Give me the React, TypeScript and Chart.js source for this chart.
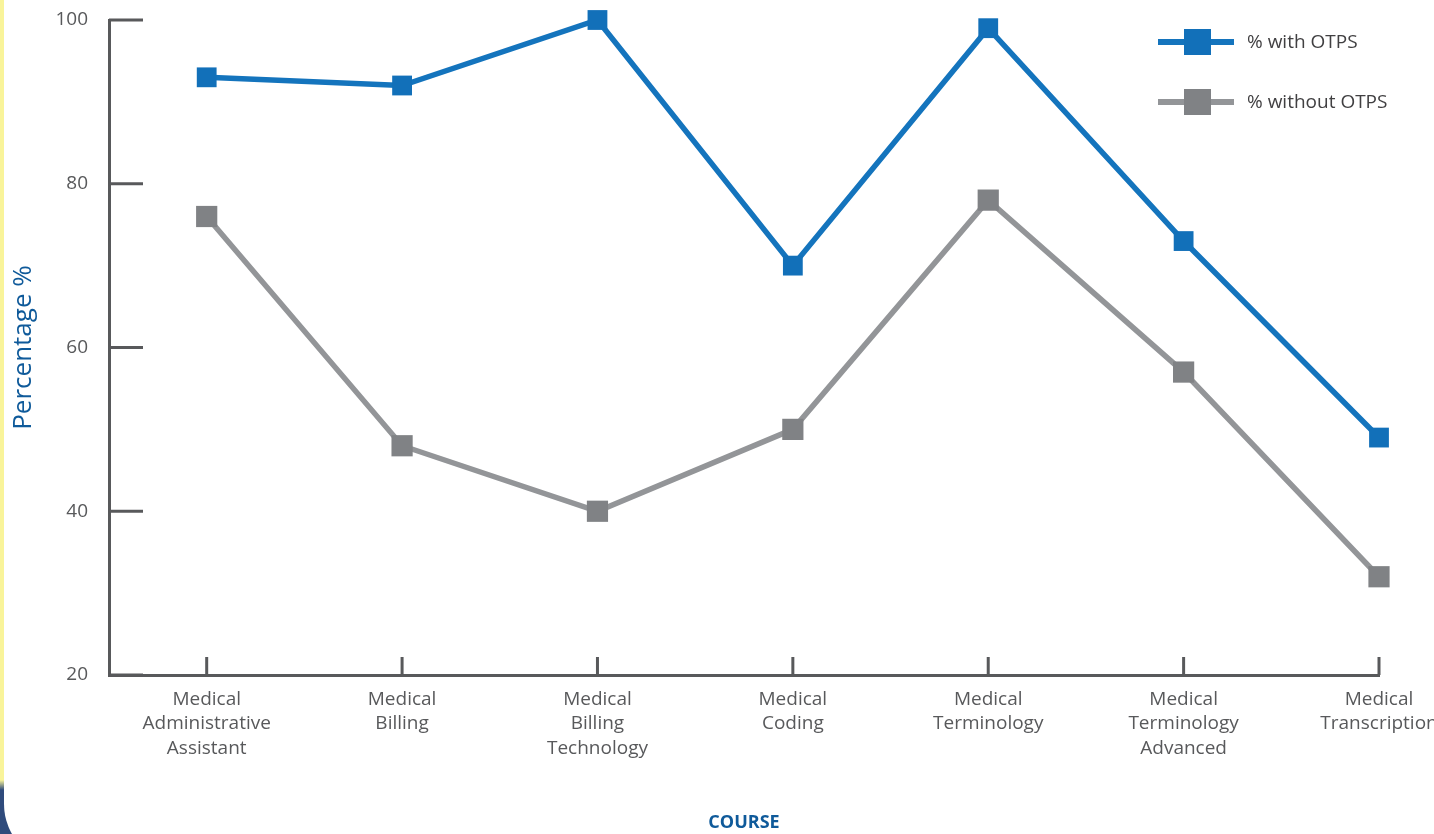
import React, { useEffect, useRef } from 'react';
import { Chart, registerables } from 'chart.js';

Chart.register(...registerables);

const categories = [
  ['Medical', 'Administrative', 'Assistant'],
  ['Medical', 'Billing'],
  ['Medical', 'Billing', 'Technology'],
  ['Medical', 'Coding'],
  ['Medical', 'Terminology'],
  ['Medical', 'Terminology', 'Advanced'],
  ['Medical', 'Transcription'],
];
const withOtps = [93, 92, 100, 70, 99, 73, 49];
const withoutOtps = [76, 48, 40, 50, 78, 57, 32];
const yTicks = [20, 40, 60, 80, 100];

const AXIS = '#58595b';
const BLUE = '#1474bd';
const GRAY = '#939598';
const TITLE = '#0f5a9a';
const FONT = '"Open Sans", "Noto Sans", sans-serif';

// inward tick marks, like the original
const innerTicks = {
  id: 'innerTicks',
  afterDatasetsDraw(chart: any) {
    const { ctx, chartArea, scales } = chart;
    ctx.save();
    ctx.strokeStyle = AXIS;
    ctx.lineWidth = 3;
    scales.y.ticks.forEach((t: any) => {
      const y = scales.y.getPixelForValue(t.value);
      ctx.beginPath();
      ctx.moveTo(chartArea.left, y);
      ctx.lineTo(chartArea.left + 34, y);
      ctx.stroke();
    });
    scales.x.ticks.forEach((t: any) => {
      const x = scales.x.getPixelForValue(t.value);
      ctx.beginPath();
      ctx.moveTo(x, chartArea.bottom);
      ctx.lineTo(x, chartArea.bottom - 18);
      ctx.stroke();
    });
    ctx.restore();
  },
};

// line + square legend in the top right corner
const sideLegend = {
  id: 'sideLegend',
  afterDraw(chart: any) {
    const { ctx, chartArea } = chart;
    ctx.save();
    chart.data.datasets.forEach((ds: any, i: number) => {
      const y = chartArea.top + 22 + i * 60;
      const x0 = chartArea.right - 221;
      ctx.strokeStyle = ds.borderColor;
      ctx.lineWidth = 6;
      ctx.beginPath();
      ctx.moveTo(x0, y);
      ctx.lineTo(x0 + 76, y);
      ctx.stroke();
      ctx.fillStyle = ds.pointBackgroundColor;
      ctx.fillRect(x0 + 26, y - 13, 27, 26);
      ctx.fillStyle = '#414042';
      ctx.font = `19px ${FONT}`;
      ctx.textBaseline = 'middle';
      ctx.fillText(ds.label, x0 + 89, y + 1);
    });
    ctx.restore();
  },
};

const LineChart: React.FC = () => {
  const canvasRef = useRef<HTMLCanvasElement>(null);
  const chartRef = useRef<Chart | null>(null);

  useEffect(() => {
    if (!canvasRef.current) return;
    if (chartRef.current) chartRef.current.destroy();

    const toPoints = (vals: number[]) => vals.map((v, i) => ({ x: i, y: v }));

    chartRef.current = new Chart(canvasRef.current, {
      type: 'line',
      data: {
        datasets: [
          {
            label: '% with OTPS',
            data: toPoints(withOtps),
            borderColor: BLUE,
            borderWidth: 5.5,
            pointStyle: 'rect',
            pointRadius: 14,
            pointBackgroundColor: '#1270b9',
            pointBorderWidth: 0,
            tension: 0,
            clip: false,
          },
          {
            label: '% without OTPS',
            data: toPoints(withoutOtps),
            borderColor: GRAY,
            borderWidth: 5.5,
            pointStyle: 'rect',
            pointRadius: 15,
            pointBackgroundColor: '#808285',
            pointBorderWidth: 0,
            tension: 0,
            clip: false,
          },
        ],
      },
      options: {
        responsive: false,
        animation: false,
        layout: { padding: { top: 20, right: 55, left: 0, bottom: 0 } },
        plugins: {
          legend: { display: false },
          tooltip: { enabled: false },
        },
        scales: {
          x: {
            type: 'linear',
            min: -0.5,
            max: 6,
            afterBuildTicks: (scale: any) => {
              scale.ticks = categories.map((_, i) => ({ value: i }));
            },
            afterFit: (scale: any) => {
              scale.height = 159;
              scale.paddingLeft = 0;
              scale.paddingRight = 0;
            },
            grid: { display: false, drawTicks: false },
            border: { display: true, color: AXIS, width: 3 },
            ticks: {
              autoSkip: false,
              maxRotation: 0,
              padding: 12,
              color: AXIS,
              font: { family: FONT, size: 19, lineHeight: 1.3 },
              callback: (v: any) => categories[v] ?? '',
            },
            title: {
              display: true,
              text: 'COURSE',
              color: TITLE,
              font: { family: FONT, size: 18, weight: 'bold' },
              padding: { top: 0, bottom: 0 },
            },
          },
          y: {
            min: 20,
            max: 100,
            afterBuildTicks: (scale: any) => {
              scale.ticks = yTicks.map((v) => ({ value: v }));
            },
            afterFit: (scale: any) => {
              scale.width = 109;
              scale.paddingTop = 0;
              scale.paddingBottom = 0;
            },
            grid: { display: false, drawTicks: false },
            border: { display: true, color: AXIS, width: 3 },
            ticks: {
              padding: 21,
              color: AXIS,
              font: { family: FONT, size: 19 },
            },
            title: {
              display: true,
              text: 'Percentage %',
              color: TITLE,
              font: { family: FONT, size: 26 },
              padding: { top: 8, bottom: 0 },
            },
          },
        },
      },
      plugins: [innerTicks, sideLegend],
    } as any);

    return () => {
      if (chartRef.current) {
        chartRef.current.destroy();
        chartRef.current = null;
      }
    };
  }, []);

  return <canvas ref={canvasRef} width={1434} height={834} style={{ position: 'absolute', left: 0, top: 0 }} />;
};

const App: React.FC = () => {
  useEffect(() => {
    document.body.style.margin = '0';
  }, []);

  return (
    <div
      style={{
        position: 'relative',
        width: 1434,
        height: 834,
        overflow: 'hidden',
        background: 'linear-gradient(#f9f49a 0, #f9f49a 780px, #2f4b7c 790px)',
      }}
    >
      <div
        style={{
          position: 'absolute',
          left: 4,
          top: -40,
          right: -40,
          bottom: -30,
          background: '#fff',
          borderBottomLeftRadius: 60,
        }}
      />
      <LineChart />
    </div>
  );
};

export default App;
